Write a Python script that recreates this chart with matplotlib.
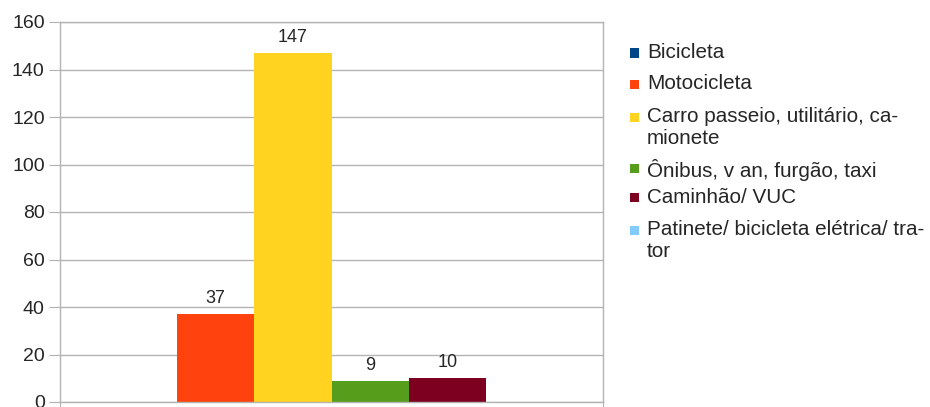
import matplotlib
matplotlib.use("Agg")
import matplotlib.pyplot as plt
from matplotlib.patches import Rectangle
import numpy as np

plt.rcParams['font.family'] = ['Liberation Sans', 'DejaVu Sans']

# Vehicle categories and counts
series = ["Bicicleta", "Motocicleta", "Carro passeio, utilitário, ca-\nmionete",
          "Ônibus, v an, furgão, taxi", "Caminhão/ VUC",
          "Patinete/ bicicleta elétrica/ tra-\ntor"]
values = [0, 37, 147, 9, 10, 0]
colors = ["#004586", "#ff420e", "#ffd320", "#579d1c", "#7e0021", "#83caff"]
yticks = [0, 20, 40, 60, 80, 100, 120, 140, 160]

text_color = "#262626"
grid_color = "#b3b3b3"

fig = plt.figure(figsize=(9.30, 4.07), dpi=100)
ax = fig.add_axes([60 / 930, 1 - 402 / 407, 543 / 930, 380 / 407])

n = len(series)
group_width = 0.853
bw = group_width / n
xs = -group_width / 2 + bw / 2 + np.arange(n) * bw

for x, v, c in zip(xs, values, colors):
    ax.bar(x, v, width=bw, color=c, linewidth=0, zorder=2)
    if v > 0:
        ax.annotate(str(v), (x, v), xytext=(0, 5), textcoords="offset points",
                    ha="center", va="bottom", fontsize=13, color=text_color)

ax.set_xlim(-0.5, 0.5)
ax.set_ylim(0, 160)
ax.set_yticks(yticks)
ax.set_yticklabels([str(t) for t in yticks], fontsize=14, color=text_color)
ax.set_xticks([-0.5, 0.5])
ax.set_xticklabels([])
ax.tick_params(axis="y", length=8, color=grid_color, pad=3)
ax.tick_params(axis="x", length=4, color=grid_color)
ax.yaxis.grid(True, color=grid_color, linewidth=1)
ax.set_axisbelow(True)
for s in ax.spines.values():
    s.set_color(grid_color)
    s.set_linewidth(1)

# Legend drawn with wrapped labels, markers aligned to the first line
legend_x_marker = 630
legend_x_text = 647
row_tops = [53, 84, 117, 169, 198, 230]
for lbl, c, y in zip(series, colors, row_tops):
    fig.patches.append(Rectangle((legend_x_marker / 930, 1 - (y + 4.5) / 407),
                                 9 / 930, 9 / 407, transform=fig.transFigure,
                                 facecolor=c, edgecolor="none"))
    fig.text(legend_x_text / 930, 1 - (y - 10) / 407, lbl, fontsize=14.9,
             color=text_color, ha="left", va="top", linespacing=1.2)

fig.savefig("out.png", dpi=100)
